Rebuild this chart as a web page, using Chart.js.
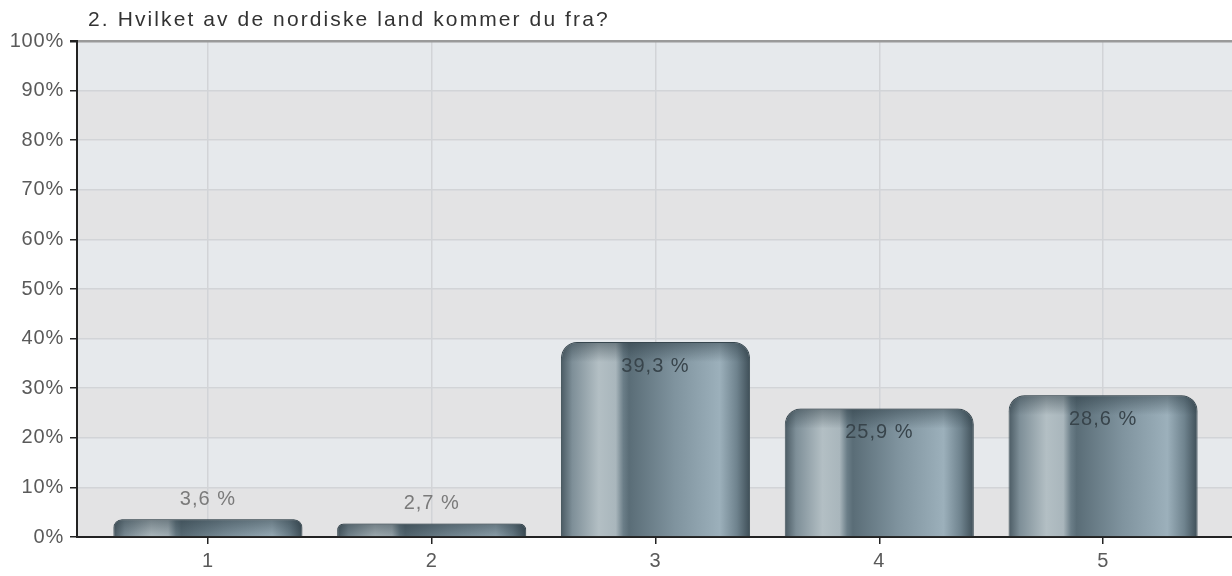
<!DOCTYPE html>
<html>
<head>
<meta charset="utf-8">
<script src="https://cdn.jsdelivr.net/npm/chart.js@4.4.0/dist/chart.umd.min.js"></script>
<style>
  body { margin: 0; background: #fff; }
  #chart { display: block; }
</style>
</head>
<body>
<canvas id="chart" width="1232" height="576"></canvas>
<script>
var title = "2. Hvilket av de nordiske land kommer du fra?";
var categories = ["1", "2", "3", "4", "5"];
var percents = [3.6, 2.7, 39.3, 25.9, 28.6];
var yTicks = [0, 10, 20, 30, 40, 50, 60, 70, 80, 90, 100];

var FONT = "'Liberation Sans', Arial, sans-serif";

function formatPct(v) {
	return v.toFixed(1).replace(".", ",") + " %";
}

// metallic gradient across a bar
function barGradient(context) {
	var chart = context.chart;
	var xs = chart.scales.x;
	if (!xs || !chart.chartArea) return "#6d818b";
	var cx = xs.getPixelForValue(context.dataIndex + 1);
	var w = (xs.getPixelForValue(2) - xs.getPixelForValue(1)) * 0.845;
	var x0 = cx - w / 2;
	var g = chart.ctx.createLinearGradient(x0, 0, x0 + w, 0);
	g.addColorStop(0.00, "#4a5a63");
	g.addColorStop(0.06, "#7e8f98");
	g.addColorStop(0.20, "#b3bfc4");
	g.addColorStop(0.29, "#a9b6bc");
	g.addColorStop(0.33, "#6b7e88");
	g.addColorStop(0.36, "#5a6d77");
	g.addColorStop(0.60, "#7f939e");
	g.addColorStop(0.84, "#9cb0bb");
	g.addColorStop(0.93, "#6f838e");
	g.addColorStop(1.00, "#3e4e57");
	return g;
}

var plotBackground = {
	id: "plotBackground",
	beforeDraw: function(chart) {
		var a = chart.chartArea;
		var ys = chart.scales.y;
		var ctx = chart.ctx;
		ctx.save();
		// alternating horizontal bands
		for (var i = 0; i < yTicks.length - 1; i++) {
			var yTop = ys.getPixelForValue(yTicks[i + 1]);
			var yBot = ys.getPixelForValue(yTicks[i]);
			ctx.fillStyle = (yTicks.length - 2 - i) % 2 === 0 ? "#e6e9ec" : "#e3e3e4";
			ctx.fillRect(a.left, yTop, a.right - a.left, yBot - yTop);
		}
		ctx.restore();
		ctx.letterSpacing = "0.8px";
	},
	afterDraw: function(chart) {
		var ctx = chart.ctx;
		ctx.save();
		ctx.font = "21px " + FONT;
		ctx.letterSpacing = "2.1px";
		ctx.fillStyle = "#333";
		ctx.textBaseline = "middle";
		ctx.textAlign = "left";
		ctx.fillText(title, 88, 20);
		ctx.restore();
	}
};

var barExtras = {
	id: "barExtras",
	afterDatasetsDraw: function(chart) {
		var ctx = chart.ctx;
		var meta = chart.getDatasetMeta(0);
		meta.data.forEach(function(bar, i) {
			var left = bar.x - bar.width / 2;
			var h = bar.base - bar.y;
			var r = Math.min(16, h / 2);
			// darker shading along the rounded top
			ctx.save();
			ctx.beginPath();
			ctx.roundRect(left, bar.y, bar.width, h, [r, r, 0, 0]);
			ctx.clip();
			var g = ctx.createLinearGradient(0, bar.y, 0, bar.y + 20);
			g.addColorStop(0, "rgba(35,50,58,0.45)");
			g.addColorStop(1, "rgba(35,50,58,0)");
			ctx.fillStyle = g;
			ctx.fillRect(left, bar.y, bar.width, 20);
			ctx.restore();

			ctx.save();
			ctx.font = "20px " + FONT;
			ctx.letterSpacing = "1px";
			ctx.textAlign = "center";
			ctx.textBaseline = "middle";
			if (h > 45) {
				ctx.fillStyle = "#38444b";
				ctx.fillText(formatPct(percents[i]), bar.x, bar.y + 24);
			} else {
				ctx.fillStyle = "#7a7a7a";
				ctx.fillText(formatPct(percents[i]), bar.x, bar.y - 20);
			}
			ctx.restore();
		});
	}
};

var points = percents.map(function(v, i) { return { x: i + 1, y: v }; });

new Chart(document.getElementById("chart"), {
	type: "bar",
	data: {
		datasets: [{
			data: points,
			backgroundColor: barGradient,
			borderColor: "#44545c",
			borderWidth: 1,
			borderSkipped: "bottom",
			borderRadius: { topLeft: 16, topRight: 16 },
			categoryPercentage: 1,
			barPercentage: 0.845
		}]
	},
	options: {
		responsive: false,
		animation: false,
		layout: { padding: { top: 41, right: 0, left: 0, bottom: 0 } },
		plugins: {
			legend: { display: false },
			tooltip: { enabled: false }
		},
		scales: {
			x: {
				type: "linear",
				offset: false,
				min: 0.415,
				max: 5.576,
				afterBuildTicks: function(scale) {
					scale.ticks = categories.map(function(c, i) { return { value: i + 1 }; });
				},
				afterFit: function(scale) { scale.height = 39; },
				ticks: {
					callback: function(v) { return categories[v - 1]; },
					color: "#5a5a5a",
					font: { family: FONT, size: 20 },
					padding: 5,
					maxRotation: 0
				},
				grid: {
					offset: false,
					color: "#d2d4d7",
					lineWidth: 1.5,
					tickColor: "#222",
					tickLength: 7
				},
				border: { color: "#222", width: 2 }
			},
			y: {
				min: 0,
				max: 100,
				afterBuildTicks: function(scale) {
					scale.ticks = yTicks.map(function(v) { return { value: v }; });
				},
				afterFit: function(scale) { scale.width = 77; },
				ticks: {
					callback: function(v) { return v + "%"; },
					color: "#5a5a5a",
					font: { family: FONT, size: 20 },
					padding: 6
				},
				grid: {
					color: function(ctx) { return ctx.tick && ctx.tick.value === 100 ? "#9a9a9a" : "#d2d4d7"; },
					lineWidth: function(ctx) { return ctx.tick && ctx.tick.value === 100 ? 2.5 : 1.5; },
					tickColor: "#222",
					tickLength: 7
				},
				border: { color: "#222", width: 2 }
			}
		}
	},
	plugins: [plotBackground, barExtras]
});
</script>
</body>
</html>
